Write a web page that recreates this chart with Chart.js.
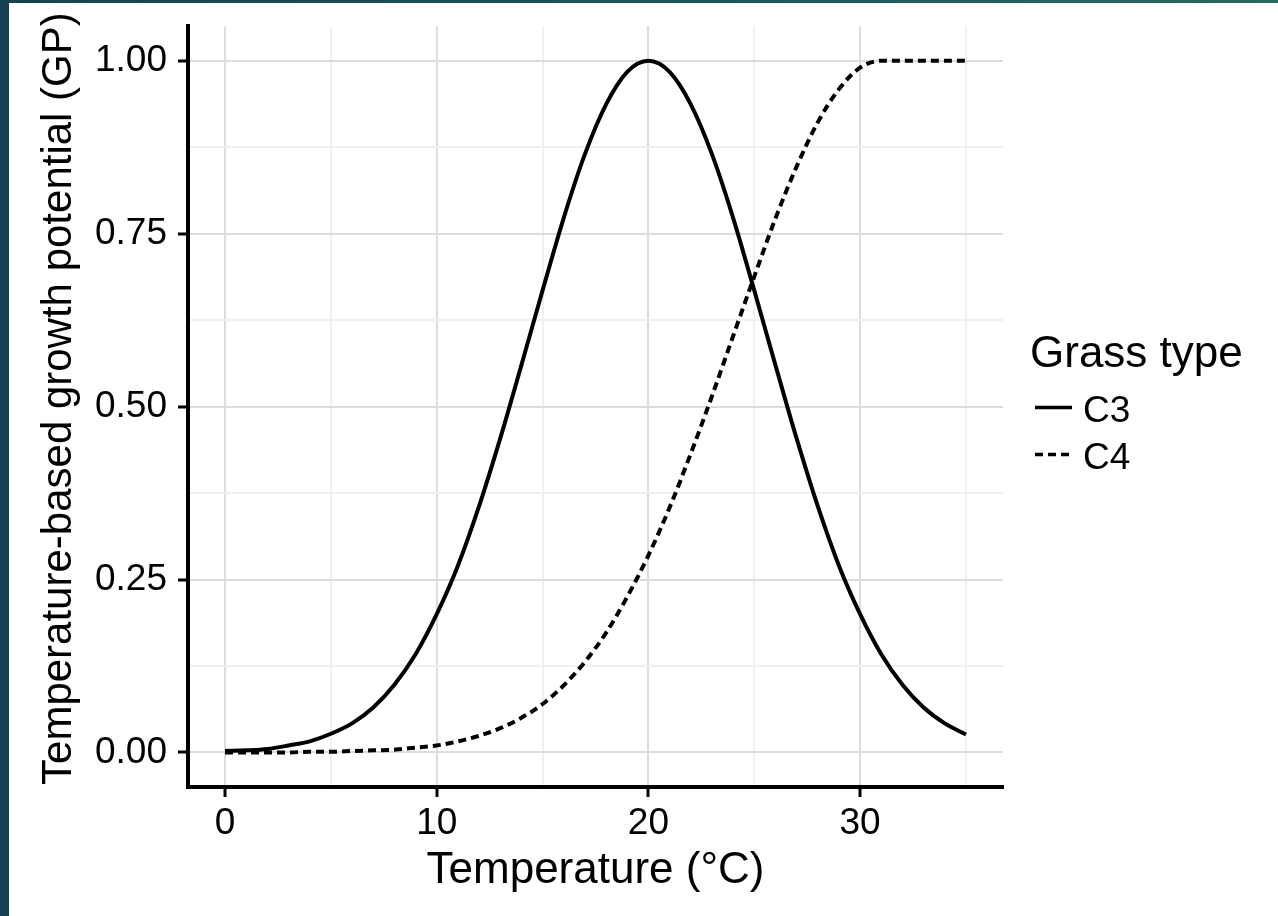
<!DOCTYPE html>
<html>
<head>
<meta charset="utf-8">
<script src="https://cdn.jsdelivr.net/npm/chart.js@4"></script>
<style>
  html, body { margin: 0; padding: 0; }
  body { width: 1278px; height: 916px; background: #fff; position: relative; overflow: hidden; }
  #panel { position: absolute; left: 9px; top: 3px; width: 1269px; height: 913px; background: #fff; }
  #chart { position: absolute; left: 0; top: -10px; display: block; }
  #edgeLeft { position: absolute; left: 0; top: 0; width: 9px; height: 916px; background: #15424e; z-index: 2; }
  #edgeTop { position: absolute; left: 0; top: 0; width: 1278px; height: 3px; background: linear-gradient(90deg, #15424e, #2a6662); z-index: 2; }
</style>
</head>
<body>
<div id="panel"><canvas id="chart" width="1269" height="923"></canvas></div>
<div id="edgeLeft"></div>
<div id="edgeTop"></div>
<script>
// growth potential curves, 1 degree steps
const temps = [0, 1, 2, 3, 4, 5, 6, 7, 8, 9, 10, 11, 12, 13, 14, 15, 16, 17,
  18, 19, 20, 21, 22, 23, 24, 25, 26, 27, 28, 29, 30, 31, 32, 33, 34, 35];
const c3 = [0.002, 0.003, 0.005, 0.010, 0.016, 0.027, 0.042, 0.065, 0.098, 0.142,
  0.200, 0.270, 0.356, 0.454, 0.560, 0.668, 0.773, 0.865, 0.937, 0.984,
  1.000, 0.984, 0.937, 0.865, 0.773, 0.668, 0.560, 0.454, 0.356, 0.270,
  0.200, 0.142, 0.098, 0.065, 0.042, 0.026];
const c4 = [0.000, 0.000, 0.000, 0.000, 0.001, 0.001, 0.002, 0.003, 0.004, 0.007,
  0.010, 0.016, 0.024, 0.035, 0.050, 0.070, 0.097, 0.131, 0.173, 0.225,
  0.285, 0.354, 0.432, 0.515, 0.602, 0.688, 0.772, 0.847, 0.911, 0.959,
  0.990, 1.000, 1.000, 1.000, 1.000, 1.000];
const seriesNames = ['C3', 'C4'];
const legendTitle = 'Grass type';
const xTitle = 'Temperature (°C)';
const yTitle = 'Temperature-based growth potential (GP)';

const FONT = "'Liberation Sans', Arial, Helvetica, sans-serif";
const DASH = [8, 5];

function pts(vals) {
  return temps.map((t, i) => ({ x: t, y: vals[i] }));
}

// y title + ggplot-ish legend on the right, drawn by hand
const sideBits = {
  id: 'sideBits',
  afterDraw(chart) {
    const ctx = chart.ctx;
    const area = chart.chartArea;
    ctx.save();
    ctx.fillStyle = '#000';
    ctx.textBaseline = 'middle';

    // y axis title, a bit above the panel centre like the original
    ctx.save();
    ctx.translate(50, (area.top + area.bottom) / 2 - 8);
    ctx.rotate(-Math.PI / 2);
    ctx.textAlign = 'center';
    ctx.font = '42px ' + FONT;
    ctx.fillText(yTitle, 0, 0);
    ctx.restore();

    const x0 = area.right + 27;
    const midY = (area.top + area.bottom) / 2;
    ctx.textAlign = 'left';
    ctx.font = '44px ' + FONT;
    ctx.fillText(legendTitle, x0, midY - 52);
    ctx.font = '37px ' + FONT;
    chart.data.datasets.forEach((ds, i) => {
      const y = midY + 1 + i * 47;
      ctx.lineWidth = 3.5;
      ctx.strokeStyle = ds.borderColor;
      ctx.setLineDash(ds.borderDash || []);
      ctx.beginPath();
      ctx.moveTo(x0 + 5, y);
      ctx.lineTo(x0 + 42, y);
      ctx.stroke();
      ctx.setLineDash([]);
      ctx.fillText(ds.label, x0 + 53, y + 4);
    });
    ctx.restore();
  }
};

const majorGrid = '#dcdcdc';
const minorGrid = '#f0f0f0';

new Chart(document.getElementById('chart'), {
  type: 'line',
  data: {
    datasets: [
      {
        label: seriesNames[0],
        data: pts(c3),
        borderColor: '#000',
        borderWidth: 4,
        pointRadius: 0,
        cubicInterpolationMode: 'monotone',
        fill: false
      },
      {
        label: seriesNames[1],
        data: pts(c4),
        borderColor: '#000',
        borderWidth: 4,
        borderDash: DASH,
        pointRadius: 0,
        cubicInterpolationMode: 'monotone',
        fill: false
      }
    ]
  },
  options: {
    responsive: false,
    animation: false,
    layout: { padding: { top: 12, right: 275, left: 0, bottom: 0 } },
    plugins: {
      legend: { display: false },
      tooltip: { enabled: false }
    },
    scales: {
      x: {
        type: 'linear',
        min: -1.75,
        max: 36.75,
        afterFit: (s) => { s.height = 129; },
        ticks: {
          stepSize: 5,
          includeBounds: false,
          autoSkip: false,
          maxRotation: 0,
          padding: 5,
          color: '#000',
          font: { family: FONT, size: 37 },
          callback: (v) => (v % 10 === 0 ? String(v) : '')
        },
        grid: {
          color: (c) => (c.tick && c.tick.value % 10 === 0 ? majorGrid : minorGrid),
          lineWidth: 2,
          tickLength: 10,
          tickWidth: 3,
          tickColor: (c) => (c.tick && c.tick.value % 10 === 0 ? '#000' : 'rgba(0,0,0,0)')
        },
        border: { color: '#000', width: 4 },
        title: {
          display: true,
          text: xTitle,
          color: '#000',
          font: { family: FONT, size: 44 },
          padding: { top: 0, bottom: 19 }
        }
      },
      y: {
        type: 'linear',
        min: -0.05,
        max: 1.05,
        afterFit: (s) => { s.width = 179; },
        ticks: {
          stepSize: 0.125,
          includeBounds: false,
          autoSkip: false,
          padding: 11,
          color: '#000',
          font: { family: FONT, size: 37 },
          callback: (v) => (v % 0.25 === 0 ? v.toFixed(2) : '')
        },
        grid: {
          color: (c) => (c.tick && c.tick.value % 0.25 === 0 ? majorGrid : minorGrid),
          lineWidth: 2,
          tickLength: 10,
          tickWidth: 3,
          tickColor: (c) => (c.tick && c.tick.value % 0.25 === 0 ? '#000' : 'rgba(0,0,0,0)')
        },
        border: { color: '#000', width: 4 },
        title: { display: false }
      }
    }
  },
  plugins: [sideBits]
});
</script>
</body>
</html>
